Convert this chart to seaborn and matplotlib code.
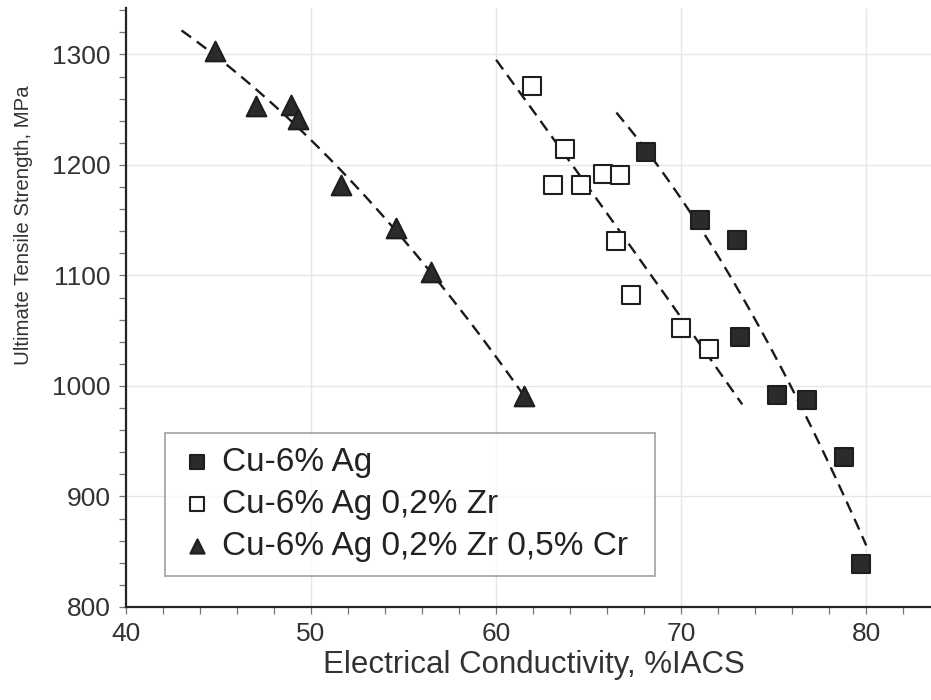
import numpy as np
import pandas as pd
import matplotlib
matplotlib.use("Agg")
import matplotlib.pyplot as plt
import seaborn as sns
from matplotlib.ticker import MultipleLocator

# ---- data ----
series_labels = ["Cu-6% Ag", "Cu-6% Ag 0,2% Zr", "Cu-6% Ag 0,2% Zr 0,5% Cr"]

ag_x = [68.1, 71.0, 73.0, 73.2, 75.2, 76.8, 78.8, 79.7]
ag_y = [1212, 1150, 1132, 1044, 992, 987, 936, 839]

agzr_x = [61.95, 63.7, 63.1, 64.6, 65.8, 66.7, 66.5, 67.3, 70.0, 71.5]
agzr_y = [1271, 1214, 1182, 1182, 1192, 1191, 1131, 1082, 1052, 1033]

agzrcr_x = [44.8, 47.0, 48.9, 49.3, 51.6, 54.6, 56.5, 61.5]
agzrcr_y = [1303, 1253, 1254, 1242, 1182, 1143, 1103, 991]

# x-extent of each dashed trend line
fit_ranges = [(66.5, 80.0), (60.0, 73.3), (43.0, 61.7)]

x_ticks = [40, 50, 60, 70, 80]
y_ticks = [800, 900, 1000, 1100, 1200, 1300]

# ---- styling ----
sns.set_theme(style="white")
plt.rcParams["font.family"] = ["Liberation Sans", "DejaVu Sans"]

fig = plt.figure(figsize=(9.31, 7.0), dpi=100)
ax = fig.add_axes([126 / 931, (700 - 607) / 700, 805 / 931, 599 / 700])

dark = "#2d2a2a"
edge = "#1e1e1e"

frames = [
    (ag_x, ag_y, "s", dark),
    (agzr_x, agzr_y, "s", "white"),
    (agzrcr_x, agzrcr_y, "^", dark),
]

# trend lines (quadratic least-squares fit of each series)
for (xs, ys, _, _), (lo, hi) in zip(frames, fit_ranges):
    coef = np.polyfit(xs, ys, 2)
    xx = np.linspace(lo, hi, 200)
    ax.plot(xx, np.polyval(coef, xx), color="#1a1a1a", lw=1.7,
            linestyle=(0, (5, 3)), zorder=2)

for (xs, ys, m, fc), lab in zip(frames, series_labels):
    df = pd.DataFrame({"x": xs, "y": ys})
    sns.scatterplot(data=df, x="x", y="y", ax=ax, marker=m,
                    s=175 if m == "s" else 200, color=fc,
                    edgecolor=edge, linewidth=1.5, label=lab, zorder=3)

ax.set_xlim(40, 83.5)
ax.set_ylim(800, 1342)
ax.set_xticks(x_ticks)
ax.set_yticks(y_ticks)
ax.xaxis.set_minor_locator(MultipleLocator(2))
ax.yaxis.set_minor_locator(MultipleLocator(20))
ax.grid(True, which="major", color="#e6e6e6", lw=1.0)
ax.set_axisbelow(True)

for s in ["top", "right"]:
    ax.spines[s].set_visible(False)
for s in ["left", "bottom"]:
    ax.spines[s].set_color("#262626")
    ax.spines[s].set_linewidth(1.6)

ax.tick_params(axis="both", which="both", direction="out", length=5,
               width=0.9, color="#777777", labelsize=19, labelcolor="#333333",
               bottom=True, left=True)
ax.tick_params(axis="y", which="major", pad=6)
ax.tick_params(axis="x", which="major", pad=6)

ax.set_xlabel("Electrical Conductivity, %IACS", fontsize=22.5, color="#333333")
ax.set_ylabel("Ultimate Tensile Strength, MPa", fontsize=14.7, color="#333333")
ax.xaxis.set_label_coords(0.507, -0.072)
ax.yaxis.set_label_coords(-0.115, 0.638)

leg = ax.legend(loc="lower left", bbox_to_anchor=(0.048, 0.052, 490 / 805, 0.2),
                mode="expand", borderaxespad=0, fontsize=24, frameon=True,
                fancybox=False, markerscale=0.72, handletextpad=0.2,
                labelspacing=0.33, borderpad=0.42, handlelength=1.1)
leg.get_frame().set_edgecolor("#9a9a9a")
leg.get_frame().set_linewidth(1.4)
for t in leg.get_texts():
    t.set_color("#222222")

fig.savefig("out.png", dpi=100)
